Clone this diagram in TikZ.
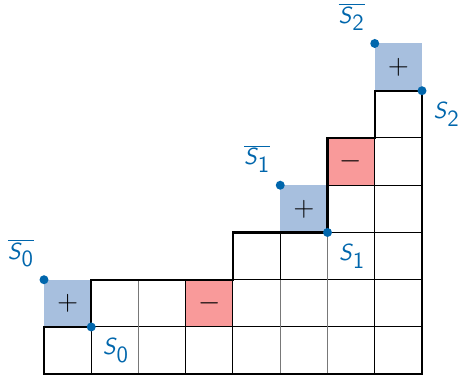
\documentclass[tikz,border=0pt]{standalone}
\usetikzlibrary{calc}
\definecolor{plusfill}{RGB}{167,191,222}
\definecolor{minusfill}{RGB}{249,154,154}
\definecolor{dotblue}{RGB}{0,102,172}
\definecolor{gridgray}{RGB}{120,120,120}
\tikzset{
  thinline/.style={black, line width=0.6pt},
  grayline/.style={gridgray, line width=0.7pt},
  outline/.style={black, line width=1.3pt, line join=miter},
  dotmark/.style={fill=dotblue},
  sign/.style={font=\fontsize{17}{19}\selectfont, inner sep=0pt},
  lab/.style={text=dotblue, font=\fontsize{14}{16}\selectfont, inner sep=0pt},
}
\begin{document}
\begin{tikzpicture}[x=1cm,y=1cm]
\useasboundingbox (-0.931,-0.01) rectangle (8.783,7.92);
% fills
\fill[plusfill] (0,1) rectangle (1,2);
\fill[plusfill] (5,3) rectangle (6,4);
\fill[plusfill] (7,6) rectangle (8,7);
\fill[minusfill] (3,1) rectangle (4,2);
\fill[minusfill] (6,4) rectangle (7,5);
% horizontal lines
\draw[thinline] (0,1) -- (8,1);
\draw[thinline] (1,2) -- (8,2);
\draw[thinline] (4,3) -- (8,3);
\draw[thinline] (6,4) -- (8,4);
\draw[thinline] (6,5) -- (8,5);
% vertical lines
\foreach \x in {1,3,4,7} \draw[thinline] (\x,0) -- (\x,1);
\foreach \x in {3,4,7} \draw[thinline] (\x,1) -- (\x,2);
\foreach \x in {5,7} \draw[thinline] (\x,2) -- (\x,3);
\draw[thinline] (7,3) -- (7,5);
\foreach \x in {2,5,6} \draw[grayline] (\x,0) -- (\x,2);
\draw[grayline] (6,2) -- (6,3);
% outline
\draw[outline] (0,0) -- (0,1) -- (1,1) -- (1,2) -- (4,2) -- (4,3) -- (6,3) -- (6,5) -- (7,5) -- (7,6) -- (8,6) -- (8,0) -- cycle;
% signs
\node[sign] (p0) at (0.5,1.5) {$+$};
\node[sign] (p1) at (5.5,3.5) {$+$};
\node[sign] (p2) at (7.5,6.5) {$+$};
\node[sign] (m0) at (3.5,1.5) {$-$};
\node[sign] (m1) at (6.5,4.5) {$-$};
% dots
\coordinate (a0) at (0,2);
\coordinate (b0) at (1,1);
\coordinate (a1) at (5,4);
\coordinate (b1) at (6,3);
\coordinate (a2) at (7,7);
\coordinate (b2) at (8,6);
\foreach \c in {a0,b0,a1,b1,a2,b2} \fill[dotmark] (\c) circle (0.095);
% labels
\node[lab] (la0) at ($(a0)+(-0.49,0.56)$) {$\overline{\textsf{\textit{S}}_{\textsf{0}}}$};
\node[lab] (lb0) at ($(b0)+(0.52,-0.5)$) {$\textsf{\textit{S}}_{\textsf{0}}$};
\node[lab] (la1) at ($(a1)+(-0.49,0.56)$) {$\overline{\textsf{\textit{S}}_{\textsf{1}}}$};
\node[lab] (lb1) at ($(b1)+(0.52,-0.5)$) {$\textsf{\textit{S}}_{\textsf{1}}$};
\node[lab] (la2) at ($(a2)+(-0.49,0.56)$) {$\overline{\textsf{\textit{S}}_{\textsf{2}}}$};
\node[lab] (lb2) at ($(b2)+(0.52,-0.5)$) {$\textsf{\textit{S}}_{\textsf{2}}$};
\end{tikzpicture}
\end{document}
